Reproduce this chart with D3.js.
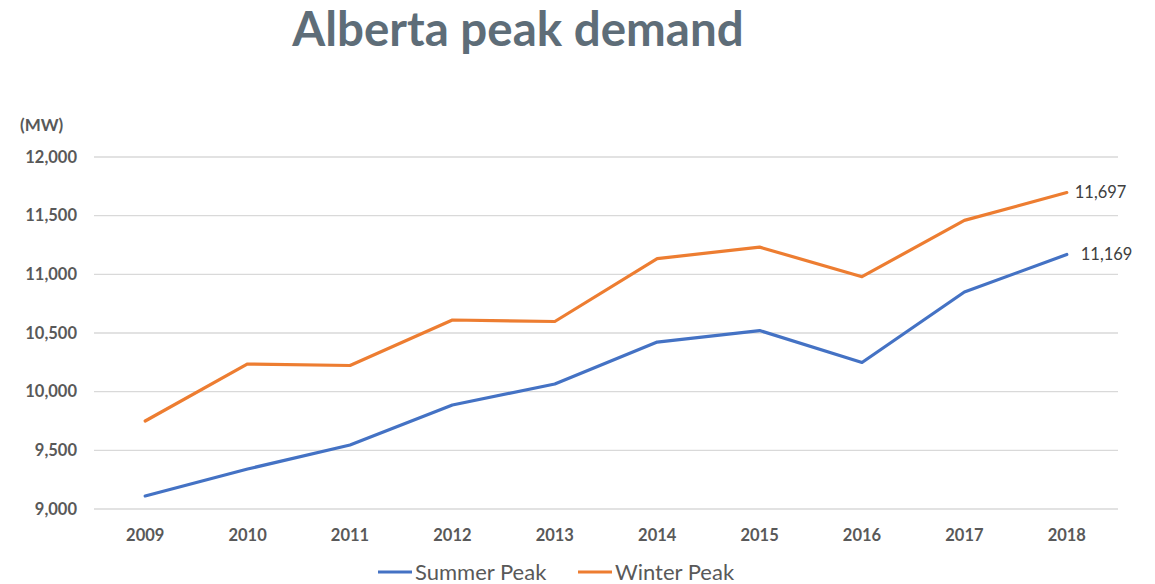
<!DOCTYPE html>
<html>
<head>
<meta charset="utf-8">
<script src="https://cdn.jsdelivr.net/npm/d3@7"></script>
<style>
  body { margin: 0; background: #fff; }
  svg text { font-family: Lato, "Open Sans", sans-serif; }
</style>
</head>
<body>
<div class="chart"></div>
<script>
var years = ["2009", "2010", "2011", "2012", "2013", "2014", "2015", "2016", "2017", "2018"];
var summerPeak = [9111, 9341, 9545, 9886, 10065, 10423, 10521, 10249, 10849, 11169];
var winterPeak = [9750, 10236, 10223, 10611, 10598, 11134, 11232, 10980, 11460, 11697];
var yTicks = [9000, 9500, 10000, 10500, 11000, 11500, 12000];

var series = [
    { name: "Summer Peak", values: summerPeak, color: "#4472C4", labelDx: 14 },
    { name: "Winter Peak", values: winterPeak, color: "#ED7D31", labelDx: 8 }
];

var dim = {
    width: 1155, height: 584,
    margin: { top: 157, right: 37, bottom: 75, left: 94 }
};
dim.plot = {
    width: dim.width - dim.margin.left - dim.margin.right,
    height: dim.height - dim.margin.top - dim.margin.bottom
};

var x = d3.scaleBand()
    .domain(years)
    .range([0, dim.plot.width]);

var y = d3.scaleLinear()
    .domain([9000, 12000])
    .range([dim.plot.height, 0]);

var svg = d3.select(".chart").append("svg")
    .attr("width", dim.width)
    .attr("height", dim.height);

svg.append("text")
    .attr("x", 518)
    .attr("y", 46)
    .attr("text-anchor", "middle")
    .style("font-size", "47.5px")
    .style("font-weight", "bold")
    .style("fill", "#5E6D78")
    .text("Alberta peak demand");

svg.append("text")
    .attr("x", 20)
    .attr("y", 131)
    .style("font-size", "17px")
    .style("font-weight", "bold")
    .style("fill", "#595959")
    .text("(MW)");

var g = svg.append("g")
    .attr("transform", "translate(" + dim.margin.left + "," + dim.margin.top + ")");

// gridlines
g.append("g")
    .attr("class", "grid")
    .selectAll("line")
    .data(yTicks)
    .enter().append("line")
    .attr("x1", 0)
    .attr("x2", dim.plot.width)
    .attr("y1", function(d) { return y(d); })
    .attr("y2", function(d) { return y(d); })
    .style("stroke", "#D9D9D9")
    .style("stroke-width", 1.3);

var yAxis = d3.axisLeft(y)
    .tickValues(yTicks)
    .tickFormat(d3.format(","))
    .tickSize(0)
    .tickPadding(17);

var yAxisG = g.append("g").attr("class", "y axis").call(yAxis);
yAxisG.select(".domain").remove();
yAxisG.selectAll("text")
    .style("font-size", "16.5px")
    .style("font-weight", "bold")
    .style("fill", "#595959")
    .style("font-family", "Lato, 'Open Sans', sans-serif");

var xAxis = d3.axisBottom(x)
    .tickSize(0)
    .tickPadding(20);

var xAxisG = g.append("g")
    .attr("class", "x axis")
    .attr("transform", "translate(0," + dim.plot.height + ")")
    .call(xAxis);
xAxisG.select(".domain").remove();
xAxisG.selectAll("text")
    .style("font-size", "16.5px")
    .style("font-weight", "bold")
    .style("fill", "#595959")
    .style("font-family", "Lato, 'Open Sans', sans-serif");

var line = d3.line()
    .x(function(d, i) { return x(years[i]) + x.bandwidth() / 2; })
    .y(function(d) { return y(d); });

series.forEach(function(s) {
    g.append("path")
        .datum(s.values)
        .attr("d", line)
        .style("fill", "none")
        .style("stroke", s.color)
        .style("stroke-width", 3.2)
        .style("stroke-linejoin", "round")
        .style("stroke-linecap", "round");

    var last = s.values.length - 1;
    g.append("text")
        .attr("x", x(years[last]) + x.bandwidth() / 2 + s.labelDx)
        .attr("y", y(s.values[last]))
        .attr("dy", "0.35em")
        .style("font-size", "16.5px")
        .style("fill", "#404040")
        .text(d3.format(",")(s.values[last]));
});

// legend
var legendItems = [
    { name: "Summer Peak", color: "#4472C4", x: 378 },
    { name: "Winter Peak", color: "#ED7D31", x: 578 }
];

var legend = svg.append("g").attr("class", "legend");
legendItems.forEach(function(item) {
    legend.append("line")
        .attr("x1", item.x)
        .attr("x2", item.x + 34)
        .attr("y1", 572)
        .attr("y2", 572)
        .style("stroke", item.color)
        .style("stroke-width", 3.2);
    legend.append("text")
        .attr("x", item.x + 37)
        .attr("y", 572)
        .attr("dy", "0.35em")
        .style("font-size", "22px")
        .style("fill", "#595959")
        .text(item.name);
});
</script>
</body>
</html>
